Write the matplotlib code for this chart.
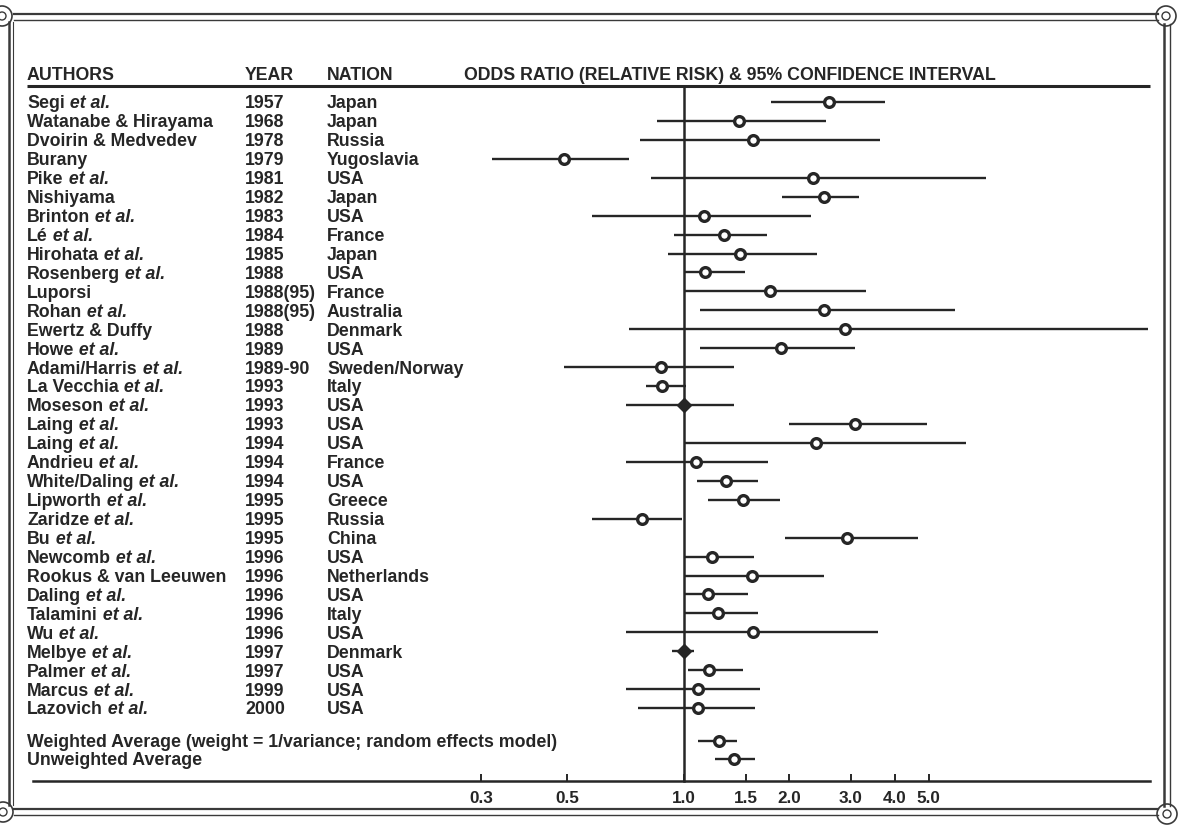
import numpy as np
import matplotlib.pyplot as plt
from matplotlib import transforms
from matplotlib.lines import Line2D
from matplotlib.patches import Circle
from matplotlib.ticker import NullLocator

plt.rcParams['font.family'] = ['Liberation Sans', 'DejaVu Sans']

# ---- data ----
authors = ["Segi", "Watanabe & Hirayama", "Dvoirin & Medvedev", "Burany", "Pike",
           "Nishiyama", "Brinton", "Lé", "Hirohata", "Rosenberg", "Luporsi", "Rohan",
           "Ewertz & Duffy", "Howe", "Adami/Harris", "La Vecchia", "Moseson", "Laing",
           "Laing", "Andrieu", "White/Daling", "Lipworth", "Zaridze", "Bu", "Newcomb",
           "Rookus & van Leeuwen", "Daling", "Talamini", "Wu", "Melbye", "Palmer",
           "Marcus", "Lazovich"]
et_al = [1, 0, 0, 0, 1, 0, 1, 1, 1, 1, 0, 1, 0, 1, 1, 1, 1, 1, 1, 1, 1, 1, 1, 1, 1,
         0, 1, 1, 1, 1, 1, 1, 1]
years = ["1957", "1968", "1978", "1979", "1981", "1982", "1983", "1984", "1985", "1988",
         "1988(95)", "1988(95)", "1988", "1989", "1989-90", "1993", "1993", "1993",
         "1994", "1994", "1994", "1995", "1995", "1995", "1996", "1996", "1996", "1996",
         "1996", "1997", "1997", "1999", "2000"]
nations = ["Japan", "Japan", "Russia", "Yugoslavia", "USA", "Japan", "USA", "France",
           "Japan", "USA", "France", "Australia", "Denmark", "USA", "Sweden/Norway",
           "Italy", "USA", "USA", "USA", "France", "USA", "Greece", "Russia", "China",
           "USA", "Netherlands", "USA", "Italy", "USA", "Denmark", "USA", "USA", "USA"]
odds = [2.60, 1.44, 1.57, 0.49, 2.34, 2.51, 1.14, 1.30, 1.45, 1.15, 1.76, 2.51,
        2.88, 1.89, 0.87, 0.88, 1.00, 3.08, 2.38, 1.08, 1.32, 1.47, 0.78, 2.92,
        1.20, 1.56, 1.17, 1.25, 1.57, 1.00, 1.18, 1.10, 1.10]
lower = [1.77, 0.85, 0.77, 0.32, 0.82, 1.90, 0.58, 0.94, 0.91, 1.00, 1.00, 1.11,
         0.72, 1.11, 0.49, 0.80, 0.71, 2.00, 1.00, 0.71, 1.09, 1.17, 0.58, 1.94,
         1.00, 1.00, 1.00, 1.00, 0.71, 0.93, 1.03, 0.71, 0.76]
upper = [3.75, 2.55, 3.63, 0.72, 7.29, 3.16, 2.31, 1.73, 2.40, 1.49, 3.31, 5.95,
         21.2, 3.08, 1.39, 1.01, 1.39, 4.95, 6.39, 1.74, 1.63, 1.88, 0.99, 4.66,
         1.59, 2.51, 1.52, 1.63, 3.58, 1.07, 1.47, 1.65, 1.60]
diamond = [0] * 16 + [1] + [0] * 12 + [1] + [0] * 3

avg_labels = ["Weighted Average (weight = 1/variance; random effects model)",
              "Unweighted Average"]
avg_odds = [1.26, 1.39]
avg_lower = [1.10, 1.23]
avg_upper = [1.42, 1.60]

tick_vals = [0.3, 0.5, 1.0, 1.5, 2.0, 3.0, 4.0, 5.0]
tick_labels = ["0.3", "0.5", "1.0", "1.5", "2.0", "3.0", "4.0", "5.0"]

# ---- layout ----
W, H = 1178, 827
INK = '#262626'
FS = 12.8
TXT_DY = 0.1  # nudge text down so it sits level with the marks


def fwd(x):
    lg = np.log10(np.clip(np.asarray(x, float), 1e-9, None))
    return np.where(lg < 0, lg * 388 / 350, lg)


def inv(u):
    u = np.asarray(u, float)
    return 10 ** np.where(u < 0, u * 350 / 388, u)


def px2or(px):
    return float(inv((px - 684) / 350))


fig = plt.figure(figsize=(W / 100, H / 100), dpi=100)
ax = fig.add_axes([0, 0, 1, 1])
ax.set_xscale('function', functions=(fwd, inv))
ax.set_xlim(px2or(0), px2or(W))

row_h = 18.94
ax.set_ylim((H - 102) / row_h, -102 / row_h)


def row(py):
    return (py - 102) / row_h


n = len(authors)
ys = np.arange(n)
avg_y = [row(741), row(759)]
axis_y = row(781)

tr = transforms.blended_transform_factory(ax.transAxes, ax.transData)
cols = [27, 245, 327]

# header
hy = row(76)
for x, lab in zip(cols + [464], ["AUTHORS", "YEAR", "NATION",
                                 "ODDS RATIO (RELATIVE RISK) & 95% CONFIDENCE INTERVAL"]):
    ax.text(x / W, hy, lab, transform=tr, fontsize=FS, fontweight='bold',
            color=INK, va='center', ha='left')
ax.plot([27 / W, 1150 / W], [row(86)] * 2, transform=tr, color=INK, lw=2.2,
        solid_capstyle='butt')

# study rows
for i in range(n):
    y = ys[i] + TXT_DY
    t1 = ax.text(cols[0] / W, y, authors[i], transform=tr, fontsize=FS,
                 fontweight='bold', color=INK, va='center', ha='left')
    if et_al[i]:
        ax.annotate(" et al.", xy=(1, 0.5), xycoords=t1, fontsize=FS,
                    fontweight='bold', fontstyle='italic', color=INK,
                    va='center', ha='left')
    ax.text(cols[1] / W, y, years[i], transform=tr, fontsize=FS,
            fontweight='bold', color=INK, va='center', ha='left')
    ax.text(cols[2] / W, y, nations[i], transform=tr, fontsize=FS,
            fontweight='bold', color=INK, va='center', ha='left')

for j in range(2):
    ax.text(cols[0] / W, avg_y[j] + TXT_DY, avg_labels[j], transform=tr, fontsize=FS,
            fontweight='bold', color=INK, va='center', ha='left')

# reference line at 1.0
ax.plot([1.0, 1.0], [row(86), axis_y], color=INK, lw=1.8)

# confidence intervals and estimates
ax.hlines(ys, lower, upper, color=INK, lw=1.7)
ax.hlines(avg_y, avg_lower, avg_upper, color=INK, lw=1.7)
circ = np.array(diamond) == 0
ax.plot(np.array(odds)[circ], ys[circ], 'o', ms=7, mfc='white', mec=INK, mew=2.4,
        ls='none')
ax.plot(np.array(odds)[~circ], ys[~circ], 'D', ms=7, mfc=INK, mec=INK, ls='none')
ax.plot(avg_odds, avg_y, 'o', ms=7, mfc='white', mec=INK, mew=2.4, ls='none')

# bottom axis drawn as the real x axis
for s in ['top', 'right', 'left']:
    ax.spines[s].set_visible(False)
ax.spines['bottom'].set_position(('data', axis_y))
ax.spines['bottom'].set_bounds(px2or(33), px2or(1150))
ax.spines['bottom'].set_linewidth(1.8)
ax.spines['bottom'].set_color(INK)
ax.set_xticks(tick_vals, tick_labels)
ax.xaxis.set_minor_locator(NullLocator())
ax.tick_params(axis='x', direction='in', length=5, width=1.4, color=INK, pad=7,
               labelsize=FS - 0.5, labelcolor=INK)
for lab in ax.get_xticklabels():
    lab.set_fontweight('bold')
ax.set_yticks([])

# decorative double frame
def fl(x0, y0, x1, y1, lw):
    fig.add_artist(Line2D([x0 / W, x1 / W], [1 - y0 / H, 1 - y1 / H],
                          color='#3a3a3a', lw=lw, transform=fig.transFigure))


fl(14, 14, 1158, 14, 1.6)
fl(14, 20, 1158, 20, 1.0)
fl(14, 809, 1158, 809, 1.6)
fl(14, 815, 1158, 815, 1.0)
fl(9, 22, 9, 805, 1.8)
fl(13, 22, 13, 805, 0.8)
fl(1164, 24, 1164, 806, 1.8)
fl(1170, 24, 1170, 806, 1.0)
for cx, cy in [(2, 16), (1166, 16), (3, 812), (1167, 814)]:
    for r, lw in [(10, 1.2), (4, 1.0)]:
        fig.add_artist(Circle((cx, H - cy), r, fill=False, ec='#3a3a3a', lw=lw,
                              transform=None))

fig.savefig('out.png', dpi=100, facecolor='white')
